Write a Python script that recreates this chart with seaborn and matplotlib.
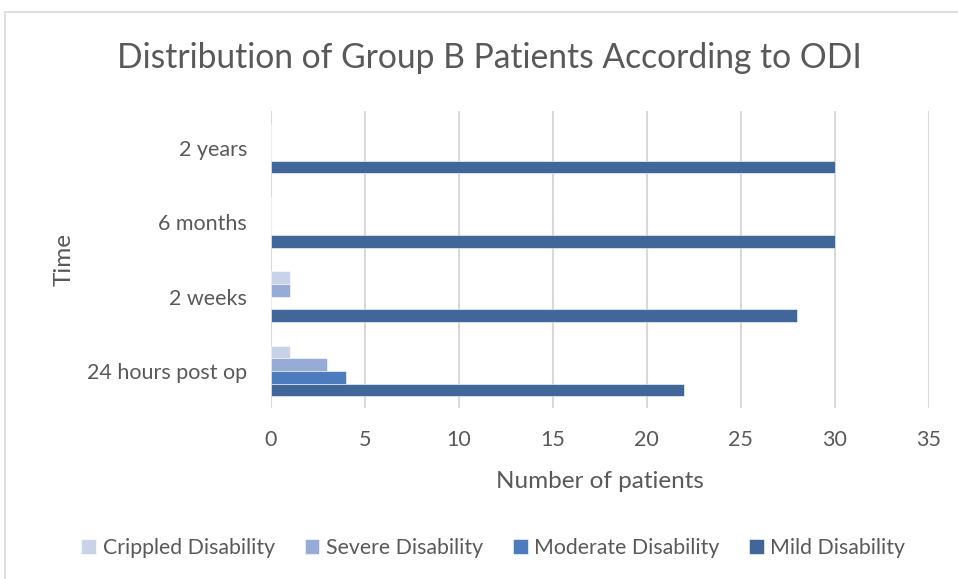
import numpy as np
import pandas as pd
import seaborn as sns
import matplotlib.pyplot as plt
from matplotlib.patches import Rectangle

# data
times = ['2 years', '6 months', '2 weeks', '24 hours post op']
levels = ['Crippled Disability', 'Severe Disability', 'Moderate Disability', 'Mild Disability']
crippled = [0, 0, 1, 1]
severe = [0, 0, 1, 3]
moderate = [0, 0, 0, 4]
mild = [30, 30, 28, 22]
colors = ['#C8D2E8', '#96ABD5', '#4C7CBD', '#41679A']
x_ticks = [0, 5, 10, 15, 20, 25, 30, 35]

rows = []
for lvl, vals in zip(levels, [crippled, severe, moderate, mild]):
    for t, v in zip(times, vals):
        rows.append({'Time': t, 'Level': lvl, 'Patients': v})
df = pd.DataFrame(rows)

sns.set_theme(style='white')
plt.rcParams['font.family'] = ['Lato', 'DejaVu Sans']
grey = '#595959'

fig = plt.figure(figsize=(9.58, 5.79), dpi=100)
ax = fig.add_axes([0.2826, 0.2953, 0.6868, 0.5130])

sns.barplot(data=df, y='Time', x='Patients', hue='Level', order=times,
            hue_order=levels, palette=colors, saturation=1, orient='h',
            width=0.683, edgecolor='white', linewidth=0.4, ax=ax, legend=True)

ax.set_xlim(0, 35)
ax.set_xticks(x_ticks)
ax.xaxis.grid(True, color='#D9D9D9', linewidth=1.5)
ax.set_axisbelow(True)
for s in ax.spines.values():
    s.set_visible(False)
ax.tick_params(axis='y', length=0, pad=17, labelsize=15.5, labelcolor=grey)
ax.tick_params(axis='x', length=0, pad=16, labelsize=15.5, labelcolor=grey)
ax.set_xlabel('Number of patients', fontsize=17.5, color=grey, labelpad=15)
ax.set_ylabel('Time', fontsize=17.5, color=grey, labelpad=9)

handles, labels = ax.get_legend_handles_labels()
ax.get_legend().remove()
fig.legend(handles, labels, loc='center', bbox_to_anchor=(0.515, 0.053), ncol=4,
           frameon=False, fontsize=15.3, labelcolor=grey, handlelength=0.7,
           handleheight=0.7, handletextpad=0.3, columnspacing=1.4)

fig.text(0.511, 0.9, 'Distribution of Group B Patients According to ODI',
         ha='center', va='center', fontsize=24.2, color=grey)

fig.patches.append(Rectangle((5 / 958, -0.01), 1.0, 1 - 12 / 579 + 0.01,
                             transform=fig.transFigure, fill=False,
                             edgecolor='#D9D9D9', linewidth=1.2))

fig.savefig('out.png', dpi=100)
